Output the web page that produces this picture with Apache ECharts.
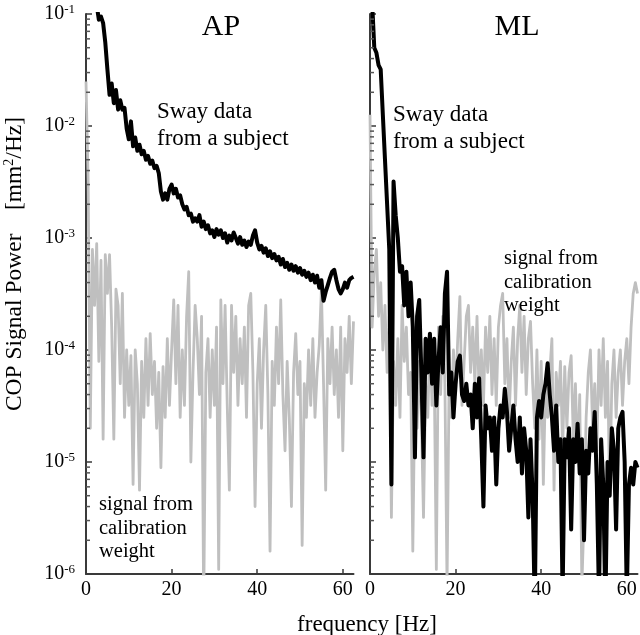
<!DOCTYPE html>
<html><head><meta charset="utf-8">
<script src="https://cdn.jsdelivr.net/npm/echarts@6/dist/echarts.min.js"></script>
<style>html,body{margin:0;padding:0;background:#fff}#c{width:640px;height:635px}</style>
</head><body><div id="c"></div>
<script>
// frequency grid (Hz)
const freq = [0,0.5,1,1.5,2,2.5,3,3.5,4,4.5,5,5.5,6,6.5,7,7.5,8,8.5,9,9.5,
10,10.5,11,11.5,12,12.5,13,13.5,14,14.5,15,15.5,16,16.5,17,17.5,18,18.5,19,19.5,
20,20.5,21,21.5,22,22.5,23,23.5,24,24.5,25,25.5,26,26.5,27,27.5,28,28.5,29,29.5,
30,30.5,31,31.5,32,32.5,33,33.5,34,34.5,35,35.5,36,36.5,37,37.5,38,38.5,39,39.5,
40,40.5,41,41.5,42,42.5,43,43.5,44,44.5,45,45.5,46,46.5,47,47.5,48,48.5,49,49.5,
50,50.5,51,51.5,52,52.5,53,53.5,54,54.5,55,55.5,56,56.5,57,57.5,58,58.5,59,59.5,
60,60.5,61,61.5,62,62.5];

// AP: sway data from a subject (mm^2/Hz)
const apSway = [null,null,null,null,null,1.2e-1,8.9e-2,9.5e-2,8.3e-2,5.6e-2,
3.2e-2,1.9e-2,2.4e-2,1.6e-2,2.1e-2,1.4e-2,1.7e-2,1.4e-2,1.45e-2,9.5e-3,
7.6e-3,1.1e-2,6.6e-3,7.9e-3,6.0e-3,6.8e-3,5.6e-3,6.0e-3,5.0e-3,5.4e-3,
4.6e-3,4.9e-3,4.2e-3,4.4e-3,3.8e-3,2.6e-3,2.2e-3,2.5e-3,2.2e-3,2.75e-3,
3.0e-3,2.5e-3,2.75e-3,2.3e-3,2.4e-3,2.0e-3,1.8e-3,1.9e-3,1.6e-3,1.65e-3,
1.4e-3,1.5e-3,1.4e-3,1.6e-3,1.26e-3,1.4e-3,1.2e-3,1.3e-3,1.1e-3,1.17e-3,
1.02e-3,1.2e-3,1.07e-3,1.17e-3,1.0e-3,1.1e-3,9.1e-4,1.05e-3,9.5e-4,1.12e-3,
1.0e-3,8.9e-4,1.02e-3,8.7e-4,9.5e-4,8.3e-4,9.3e-4,8.7e-4,1.05e-3,1.17e-3,
9.1e-4,7.9e-4,8.5e-4,7.4e-4,8.1e-4,6.9e-4,7.6e-4,6.6e-4,7.2e-4,6.3e-4,
6.8e-4,5.8e-4,6.5e-4,5.5e-4,6.0e-4,5.2e-4,5.8e-4,5.1e-4,5.6e-4,4.9e-4,
5.4e-4,4.7e-4,5.1e-4,4.5e-4,4.9e-4,4.2e-4,4.7e-4,4.0e-4,4.6e-4,3.6e-4,
4.2e-4,2.75e-4,3.3e-4,3.8e-4,4.4e-4,5.0e-4,5.2e-4,4.2e-4,3.5e-4,3.2e-4,
3.5e-4,4.0e-4,3.6e-4,4.2e-4,4.4e-4,4.5e-4];

// AP: signal from calibration weight
const apCalib = [2.5e-2,3.2e-3,2.0e-5,7.9e-4,2.5e-4,8.9e-4,7.9e-5,6.3e-4,1.6e-5,7.1e-4,
3.2e-4,7.1e-4,1.6e-4,1.6e-5,3.5e-4,2.5e-4,5.0e-5,3.2e-4,2.5e-5,1.0e-4,
3.2e-5,8.9e-5,6.3e-6,1.0e-4,5.0e-5,5.6e-6,7.9e-5,2.5e-5,1.26e-4,3.2e-5,
1.4e-4,4.0e-5,7.9e-5,2.0e-5,6.3e-5,8.9e-6,7.1e-5,2.5e-5,1.26e-4,3.2e-5,
1.0e-4,2.8e-4,5.0e-5,2.5e-4,2.5e-5,1.0e-4,3.2e-5,2.0e-4,5.0e-4,1.0e-5,
6.3e-5,2.5e-4,1.26e-4,4.0e-5,2.0e-4,5.0e-7,6.3e-5,1.26e-4,2.5e-5,1.0e-4,
3.2e-5,1.6e-4,1.1e-6,2.8e-4,5.0e-5,2.5e-4,3.2e-5,5.6e-6,2.5e-4,6.3e-5,
2.0e-4,3.2e-5,1.26e-4,5.0e-5,1.6e-4,2.5e-5,2.5e-4,3.2e-4,6.3e-5,4.0e-6,
5.0e-5,1.26e-4,2.0e-5,1.0e-4,2.5e-4,4.0e-5,1.6e-6,7.9e-5,3.2e-5,1.6e-4,
5.0e-5,2.8e-4,4.0e-5,1.26e-5,7.9e-5,2.5e-5,4.0e-6,6.3e-5,1.4e-4,4.0e-5,
7.9e-5,1.8e-6,5.0e-5,2.5e-5,1.0e-4,3.2e-5,1.26e-4,2.5e-5,6.3e-5,1.1e-4,
3.5e-4,5.0e-5,5.6e-6,1.26e-4,5.0e-5,1.6e-4,4.0e-5,1.0e-4,2.5e-5,1.6e-4,
1.26e-5,1.26e-4,6.3e-5,2.0e-4,5.0e-5,1.8e-4];

// ML: sway data from a subject
const mlSway = [1.6e-1,1.26e-1,5.0e-2,4.5e-2,3.5e-2,3.2e-2,1.26e-2,5.0e-3,2.0e-3,7.9e-4,
6.3e-6,3.2e-3,1.6e-3,1.0e-3,5.0e-4,5.6e-4,2.5e-4,5.0e-4,2.0e-4,4.0e-4,
1.6e-4,1.1e-5,2.0e-4,2.8e-4,6.3e-5,1.1e-5,1.26e-4,6.3e-5,1.4e-4,5.0e-5,
1.26e-4,3.2e-5,7.9e-5,1.6e-4,6.3e-5,3.2e-4,5.0e-4,4.0e-5,6.3e-5,2.5e-5,
5.0e-5,7.9e-5,8.9e-5,4.0e-5,3.5e-5,5.0e-5,3.2e-5,4.0e-5,2.0e-5,5.0e-5,
2.5e-5,5.6e-5,1.6e-5,4.0e-6,3.2e-5,2.0e-5,2.5e-5,1.26e-5,2.5e-5,6.3e-6,
2.0e-5,3.2e-5,2.5e-5,4.5e-5,2.8e-5,1.26e-5,2.0e-5,3.2e-5,1.6e-5,1.0e-5,
2.5e-5,7.9e-6,2.0e-5,1.26e-5,3.2e-6,1.6e-5,5.0e-6,5.0e-7,2.5e-5,3.5e-5,
2.5e-5,4.0e-5,5.0e-5,7.6e-5,4.0e-5,2.5e-5,1.26e-5,3.2e-5,1.0e-5,1.6e-5,
6.3e-7,1.6e-5,1.1e-5,2.0e-5,2.5e-6,1.6e-5,1.0e-5,2.2e-5,7.9e-6,1.6e-5,
2.0e-6,1.26e-5,7.9e-6,2.0e-5,1.26e-5,2.8e-5,6.3e-6,6.3e-7,1.6e-5,6.3e-6,
5.0e-7,1.0e-5,5.0e-6,2.0e-5,1.26e-5,2.5e-6,2.0e-5,2.5e-5,2.8e-5,1.0e-5,
6.3e-7,6.3e-6,8.9e-6,6.3e-6,1.0e-5,8.9e-6];

// ML: signal from calibration weight
const mlCalib = [1.26e-2,1.6e-4,5.0e-4,7.9e-4,2.0e-4,4.0e-4,1.0e-4,2.5e-4,6.3e-5,2.0e-4,
3.2e-6,7.9e-5,3.2e-5,1.26e-4,2.5e-5,2.5e-4,7.9e-5,1.6e-4,4.0e-5,6.3e-5,
1.6e-6,5.0e-5,2.0e-5,7.9e-5,2.5e-5,3.2e-6,5.0e-5,2.5e-5,1.26e-4,3.2e-5,
6.3e-5,1.1e-6,1.6e-4,4.0e-5,2.0e-4,5.0e-5,7.9e-7,6.3e-5,2.5e-5,1.0e-4,
4.0e-5,1.26e-4,3.0e-4,3.2e-5,7.9e-5,2.0e-4,2.5e-4,6.3e-5,1.6e-4,5.0e-5,
2.0e-4,4.0e-5,1.0e-4,3.2e-5,1.6e-4,6.3e-5,2.0e-4,4.0e-5,1.26e-4,3.2e-5,
1.6e-4,2.5e-4,3.2e-4,5.0e-5,1.26e-4,2.5e-5,7.9e-5,1.6e-4,3.2e-5,1.26e-4,
2.5e-4,6.3e-5,2.0e-4,4.0e-5,1.26e-4,1.8e-4,5.0e-5,2.0e-5,1.0e-4,1.6e-5,
7.9e-5,6.3e-6,5.0e-5,2.5e-5,6.3e-5,1.26e-4,5.6e-6,6.3e-5,3.2e-5,7.9e-5,
1.26e-5,7.1e-5,2.0e-5,6.3e-5,8.9e-5,1.6e-5,5.0e-5,1.0e-5,4.0e-5,7.9e-7,
3.2e-6,2.5e-5,6.3e-5,1.0e-4,2.0e-5,5.0e-5,1.26e-5,1.0e-4,3.2e-5,1.26e-4,
2.5e-5,7.9e-5,5.0e-6,5.0e-5,1.0e-4,2.5e-5,6.3e-5,1.0e-4,3.2e-5,7.9e-5,
1.26e-4,5.0e-5,1.6e-4,3.2e-4,4.0e-4,3.2e-4];

// axis ticks
const xTicks = [0, 20, 40, 60];
const yMajor = [1e-6, 1e-5, 1e-4, 1e-3, 1e-2, 1e-1];
const yMinor = [2e-6,3e-6,4e-6,5e-6,6e-6,7e-6,8e-6,9e-6,
2e-5,3e-5,4e-5,5e-5,6e-5,7e-5,8e-5,9e-5,
2e-4,3e-4,4e-4,5e-4,6e-4,7e-4,8e-4,9e-4,
2e-3,3e-3,4e-3,5e-3,6e-3,7e-3,8e-3,9e-3,
2e-2,3e-2,4e-2,5e-2,6e-2,7e-2,8e-2,9e-2];
const panelTitles = ['AP', 'ML'];

const FONT = "'Liberation Serif','Times New Roman',serif";
const AX = '#3a3a3a';
const pair = arr => freq.map((f, i) => [f, arr[i]]);

function xAxisOf(gi) {
  return {
    gridIndex: gi, type: 'value', min: 0, max: 62.5,
    axisLine: { show: true, lineStyle: { color: AX, width: 2 } },
    axisTick: { show: true, inside: true, length: 5, customValues: xTicks, lineStyle: { color: AX, width: 1.5 } },
    axisLabel: { show: true, customValues: xTicks, fontFamily: FONT, fontSize: 20, color: '#000', margin: 6 },
    splitLine: { show: false }
  };
}
function yAxisOf(gi, showLabel) {
  return {
    gridIndex: gi, type: 'log', logBase: 10, min: 1e-6, max: 1e-1, position: 'left',
    axisLine: { show: true, lineStyle: { color: AX, width: 2 } },
    axisTick: { show: true, inside: true, length: 6, customValues: yMajor, lineStyle: { color: AX, width: 1.5 } },
    axisLabel: {
      show: showLabel, customValues: yMajor, margin: 11,
      formatter: v => '{b|10}{s|' + Math.round(Math.log10(v)) + '}',
      rich: {
        b: { fontFamily: FONT, fontSize: 20, color: '#000', lineHeight: 22 },
        s: { fontFamily: FONT, fontSize: 13, color: '#000', lineHeight: 12, verticalAlign: 'top' }
      }
    },
    splitLine: { show: false }
  };
}
function lineSeries(xi, yi, arr, color, width, z) {
  return {
    type: 'line', xAxisIndex: xi, yAxisIndex: yi, data: pair(arr),
    symbol: 'none', showSymbol: false, clip: true, animation: false, z: z,
    lineStyle: { color: color, width: width, join: 'round' }
  };
}
// minor log ticks: short marks at x = 0 placed through the axis scales
function minorTickSeries(xi, yi) {
  return {
    type: 'custom', xAxisIndex: xi, yAxisIndex: yi, silent: true, z: 4, clip: false,
    data: yMinor.map(v => [0, v]),
    renderItem: (params, api) => {
      const p = api.coord([api.value(0), api.value(1)]);
      return { type: 'line', shape: { x1: p[0], y1: p[1], x2: p[0] + 4, y2: p[1] },
               style: { stroke: '#555', lineWidth: 1.5 } };
    }
  };
}

const GRAY = '#bfbfbf';
const G = { top: 14, width: 267.5, height: 560, containLabel: false, outerBoundsMode: 'none' };
const chart = echarts.init(document.getElementById('c'), null, { renderer: 'canvas' });
chart.setOption({
  animation: false,
  backgroundColor: '#fff',
  grid: [Object.assign({ left: 86 }, G), Object.assign({ left: 370 }, G)],
  xAxis: [xAxisOf(0), xAxisOf(1)],
  yAxis: [yAxisOf(0, true), yAxisOf(1, false)],
  series: [
    lineSeries(0, 0, apCalib, GRAY, 2.8, 2),
    lineSeries(0, 0, apSway, '#000', 4, 3),
    lineSeries(1, 1, mlCalib, GRAY, 2.8, 2),
    lineSeries(1, 1, mlSway, '#000', 4, 3),
    minorTickSeries(0, 0),
    minorTickSeries(1, 1)
  ],
  graphic: [
    { type: 'text', x: 221, y: 27, z: 10, style: { text: panelTitles[0], font: '30px ' + FONT, fill: '#000', align: 'center', verticalAlign: 'middle', textAlign: 'center', textVerticalAlign: 'middle' } },
    { type: 'text', x: 517, y: 27, z: 10, style: { text: panelTitles[1], font: '30px ' + FONT, fill: '#000', align: 'center', verticalAlign: 'middle', textAlign: 'center', textVerticalAlign: 'middle' } },
    { type: 'text', x: 157, y: 98, z: 10, style: { text: 'Sway data\nfrom a subject', font: '23px ' + FONT, lineHeight: 27, fill: '#000', align: 'left', verticalAlign: 'top', textAlign: 'left', textVerticalAlign: 'top' } },
    { type: 'text', x: 393, y: 101, z: 10, style: { text: 'Sway data\nfrom a subject', font: '23px ' + FONT, lineHeight: 27, fill: '#000', align: 'left', verticalAlign: 'top', textAlign: 'left', textVerticalAlign: 'top' } },
    { type: 'text', x: 99, y: 493, z: 10, style: { text: 'signal from\ncalibration\nweight', font: '20.5px ' + FONT, lineHeight: 23.5, fill: '#000', align: 'left', verticalAlign: 'top', textAlign: 'left', textVerticalAlign: 'top' } },
    { type: 'text', x: 504, y: 247, z: 10, style: { text: 'signal from\ncalibration\nweight', font: '20.5px ' + FONT, lineHeight: 23.5, fill: '#000', align: 'left', verticalAlign: 'top', textAlign: 'left', textVerticalAlign: 'top' } },
    { type: 'text', x: 367, y: 625, z: 10, style: { text: 'frequency [Hz]', font: '23px ' + FONT, fill: '#000', align: 'center', verticalAlign: 'middle', textAlign: 'center', textVerticalAlign: 'middle' } },
    { type: 'text', x: 15, y: 264, rotation: Math.PI / 2, z: 10, style: {
        text: 'COP Signal Power    [mm{s|2}/Hz]', font: '23.5px ' + FONT, fill: '#000', lineHeight: 26,
        align: 'center', verticalAlign: 'middle', textAlign: 'center', textVerticalAlign: 'middle',
        rich: { s: { fontFamily: FONT, fontSize: 14, fill: '#000', color: '#000', lineHeight: 14, verticalAlign: 'top' } }
      } }
  ]
});
</script>
</body></html>
